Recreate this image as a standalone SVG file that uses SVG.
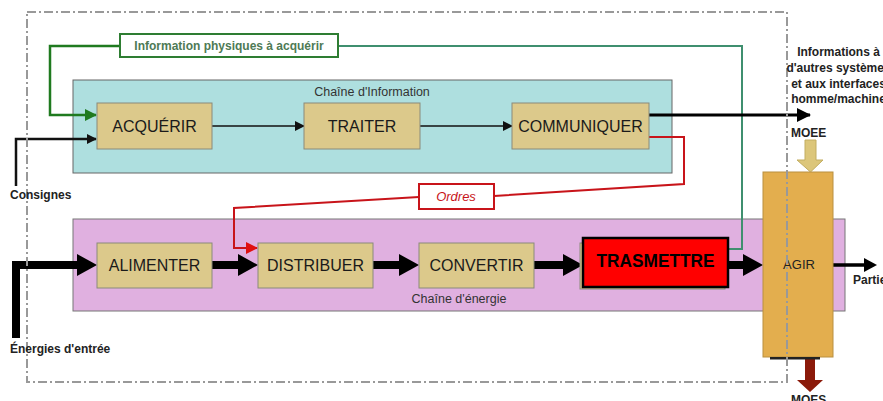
<svg xmlns="http://www.w3.org/2000/svg" width="883" height="401" viewBox="0 0 883 401">
<defs>
<style>
.box{fill:#DCC98B;stroke:#8a8a7a;stroke-width:1}
.lbl{font-family:"Liberation Sans",Arial,sans-serif;font-size:16px;fill:#1a1a1a;text-anchor:middle}
.small{font-family:"Liberation Sans",Arial,sans-serif;font-size:12.5px;fill:#333}
.ext{font-family:"Liberation Sans",Arial,sans-serif;font-size:12px;font-weight:bold;fill:#222}
.thin{fill:none;stroke:#111;stroke-width:1.6}
.thick{fill:none;stroke:#000;stroke-width:8}
.red{fill:none;stroke:#C8141A;stroke-width:2}
</style>
<marker id="ah" markerWidth="10" markerHeight="10" refX="9" refY="5" orient="auto" markerUnits="userSpaceOnUse">
<path d="M0,0 L10,5 L0,10 Z" fill="#111"/>
</marker>
<marker id="ahr" markerWidth="12" markerHeight="12" refX="11" refY="6" orient="auto" markerUnits="userSpaceOnUse">
<path d="M0,0 L12,6 L0,12 Z" fill="#E01010"/>
</marker>
<marker id="ahg" markerWidth="12" markerHeight="12" refX="11" refY="6" orient="auto" markerUnits="userSpaceOnUse">
<path d="M0,0 L12,6 L0,12 Z" fill="#1F7A1F"/>
</marker>
<marker id="ahb" markerWidth="14" markerHeight="14" refX="13" refY="7" orient="auto" markerUnits="userSpaceOnUse">
<path d="M0,0 L14,7 L0,14 Z" fill="#000"/>
</marker>
</defs>
<rect width="883" height="401" fill="#fff"/>

<g id="chaine-information">
<rect x="73" y="80" width="599" height="93" fill="#AEDFDF" stroke="#666" stroke-width="1"/>
<text class="small" x="372" y="96" text-anchor="middle">Chaîne d'Information</text>
</g>
<g id="chaine-energie">
<rect x="73" y="219" width="772" height="92" fill="#E0B0E0" stroke="#777" stroke-width="1"/>
<text class="small" x="459" y="303" text-anchor="middle">Chaîne d'énergie</text>
</g>

<g id="connectors">
<!-- info flow -->
<line class="thin" x1="212" y1="126" x2="304" y2="126" marker-end="url(#ah)"/>
<line class="thin" x1="420" y1="126" x2="512" y2="126" marker-end="url(#ah)"/>
<polyline fill="none" stroke="#111" stroke-width="2.5" points="16,186 16,139 96,139" marker-end="url(#ah)"/>
<!-- green info physique -->
<polyline fill="none" stroke="#1F7A1F" stroke-width="2.5" points="120,46 50,46 50,115 96,115" marker-end="url(#ahg)"/>
<polyline fill="none" stroke="#3F8F6F" stroke-width="2" points="338,46 742,46 742,249 728,249"/>
<!-- communiquer out -->
<line x1="649" y1="115" x2="810" y2="115" stroke="#000" stroke-width="3" marker-end="url(#ahb)"/>
<!-- ordres -->
<polyline class="red" points="649,137 684,137 684,184 494,196"/>
<polyline class="red" points="419,197 234,208 234,248 257,248" marker-end="url(#ahr)"/>
<!-- energy flow -->
<polyline class="thick" points="16,338 16,265 80,265"/>
<path d="M77,254 L97,265 L77,276 Z" fill="#000"/>
<line class="thick" x1="212" y1="265" x2="240" y2="265"/>
<path d="M238,254 L258,265 L238,276 Z" fill="#000"/>
<line class="thick" x1="373" y1="265" x2="401" y2="265"/>
<path d="M399,254 L419,265 L399,276 Z" fill="#000"/>
<line class="thick" x1="534" y1="265" x2="565" y2="265"/>
<path d="M563,254 L583,265 L563,276 Z" fill="#000"/>
<line class="thick" x1="728" y1="265" x2="745" y2="265"/>
<path d="M743,254 L763,265 L743,276 Z" fill="#000"/>
<line x1="833" y1="265" x2="866" y2="265" stroke="#000" stroke-width="3.5"/>
<path d="M864,258 L877,265 L864,272 Z" fill="#000"/>
<!-- MOEE arrow -->
<path d="M805,140 L816,140 L816,160 L823,160 L810.5,172 L797,160 L805,160 Z" fill="#DCC67A" stroke="#c2ad60" stroke-width="1"/>
<!-- MOES arrow -->
<path d="M805,357 L815,357 L815,380 L823,380 L810,392 L797,380 L805,380 Z" fill="#8B1A0A"/>
</g>

<g id="label-info-physique">
<rect x="120" y="34" width="218" height="23" fill="#fff" stroke="#2E7D32" stroke-width="2"/>
<text x="229" y="50" text-anchor="middle" font-family="'Liberation Sans',Arial,sans-serif" font-size="12" font-weight="bold" fill="#4E7A55">Information physiques à acquérir</text>
</g>
<g id="label-ordres">
<rect x="419" y="184" width="75" height="25" fill="#fff" stroke="#C8141A" stroke-width="2"/>
<text x="456" y="201" text-anchor="middle" font-family="'Liberation Sans',Arial,sans-serif" font-size="13" font-style="italic" fill="#C8141A">Ordres</text>
</g>

<g id="acquerir"><rect class="box" x="97" y="103" width="115" height="46"/><text class="lbl" x="154.5" y="132">ACQUÉRIR</text></g>
<g id="traiter"><rect class="box" x="304" y="103" width="116" height="46"/><text class="lbl" x="362" y="132">TRAITER</text></g>
<g id="communiquer"><rect class="box" x="512" y="103" width="137" height="46"/><text class="lbl" x="580.5" y="132">COMMUNIQUER</text></g>
<g id="alimenter"><rect class="box" x="97" y="243" width="115" height="45"/><text class="lbl" x="154.5" y="271">ALIMENTER</text></g>
<g id="distribuer"><rect class="box" x="258" y="243" width="115" height="45"/><text class="lbl" x="315.5" y="271">DISTRIBUER</text></g>
<g id="convertir"><rect class="box" x="419" y="243" width="115" height="45"/><text class="lbl" x="476.5" y="271">CONVERTIR</text></g>
<g id="trasmettre">
<rect class="box" x="580" y="243" width="145" height="46"/>
<rect x="583" y="238" width="145" height="49" fill="#FF0000" stroke="#000" stroke-width="2.5"/>
<text x="655.5" y="267" text-anchor="middle" font-family="'Liberation Sans',Arial,sans-serif" font-size="19" font-weight="bold" fill="#000" textLength="118" lengthAdjust="spacingAndGlyphs">TRASMETTRE</text>
</g>
<g id="agir">
<rect x="763" y="172" width="70" height="185" fill="#E3AE4E" stroke="#b99040" stroke-width="1"/>
<rect x="770" y="357" width="50" height="2.5" fill="#222"/>
<text x="799" y="269" text-anchor="middle" font-family="'Liberation Sans',Arial,sans-serif" font-size="13" fill="#222">AGIR</text>
</g>

<g id="frontiere">
<rect x="27" y="12" width="760" height="370" fill="none" stroke="#999" stroke-width="2" stroke-dasharray="9,3,2,3"/>
</g>

<g id="textes-externes">
<text class="ext" x="10" y="199">Consignes</text>
<text class="ext" x="10" y="353">Énergies d'entrée</text>
<text class="ext" x="838.5" y="56" text-anchor="middle">Informations à</text>
<text class="ext" x="838.5" y="72" text-anchor="middle">d'autres systèmes</text>
<text class="ext" x="838.5" y="88" text-anchor="middle">et aux interfaces</text>
<text class="ext" x="838.5" y="103" text-anchor="middle">homme/machine</text>
<text class="ext" x="791" y="137">MOEE</text>
<text class="ext" x="853" y="284">Partie opérative</text>
<text class="ext" x="791" y="404">MOES</text>
</g>
</svg>
